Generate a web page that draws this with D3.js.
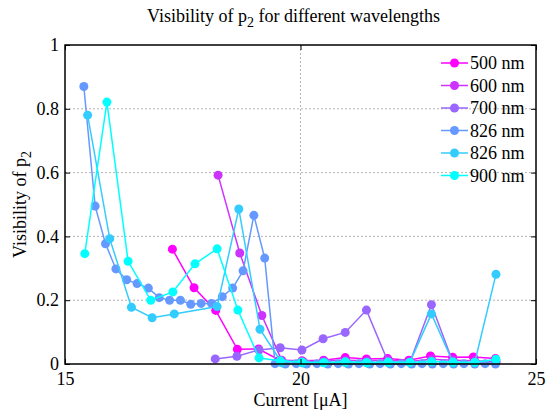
<!DOCTYPE html>
<html>
<head>
<meta charset="utf-8">
<script src="https://cdnjs.cloudflare.com/ajax/libs/d3/7.8.5/d3.min.js"></script>
<style>
  body { margin: 0; background: #fff; }
  svg { font-family: "Liberation Serif", "Times New Roman", serif; }
</style>
</head>
<body>
<svg width="547" height="412"></svg>
<script>
var labels = ["500 nm", "600 nm", "700 nm", "826 nm", "826 nm", "900 nm"];
var colors = ["#ff00ff", "#cc33ff", "#9966ff", "#6699ff", "#33ccff", "#00ffff"];

var current500 = [17.28, 17.74, 18.20, 18.66, 19.11, 19.56, 20.03, 20.49, 20.95, 21.40, 21.85, 22.30, 22.76, 23.23, 23.67, 24.14];
var vis500     = [0.360, 0.239, 0.168, 0.046, 0.047, 0.012, 0.010, 0.012, 0.020, 0.016, 0.017, 0.012, 0.025, 0.021, 0.022, 0.017];

var current600 = [18.25, 18.71, 19.18, 19.60, 20.05, 20.50, 20.96, 21.42, 21.87, 22.32, 22.78, 23.24, 23.70, 24.15];
var vis600     = [0.592, 0.348, 0.152, 0.012, 0.008, 0.010, 0.012, 0.010, 0.012, 0.008, 0.015, 0.012, 0.010, 0.006];

var current700 = [18.19, 18.65, 19.12, 19.57, 20.03, 20.48, 20.95, 21.40, 21.86, 22.32, 22.78, 23.24, 23.70, 24.15];
var vis700     = [0.016, 0.024, 0.044, 0.051, 0.044, 0.079, 0.099, 0.169, 0.006, 0.005, 0.186, 0.004, 0.004, 0.008];

var current826a = [15.40, 15.64, 15.86, 16.08, 16.31, 16.53, 16.77, 17.00, 17.22, 17.45, 17.67, 17.89, 18.11, 18.34, 18.56, 18.78, 19.01, 19.24,
                   19.46, 19.68, 19.91, 20.13, 20.35, 20.58, 20.80, 21.02, 21.24, 21.47, 21.69, 21.91, 22.14, 22.36, 22.58, 22.80, 23.03, 23.25, 23.47, 23.70, 23.92, 24.14];
var vis826a     = [0.870, 0.495, 0.377, 0.298, 0.264, 0.252, 0.238, 0.208, 0.200, 0.200, 0.187, 0.190, 0.190, 0.211, 0.238, 0.292, 0.466, 0.332,
                   0.001, 0.000, 0.001, 0.000, 0.001, 0.000, 0.001, 0.000, 0.001, 0.000, 0.001, 0.000, 0.001, 0.000, 0.001, 0.000, 0.001, 0.000, 0.001, 0.000, 0.001, 0.000];

var current826b = [15.48, 15.95, 16.41, 16.85, 17.32, 18.23, 18.69, 19.14, 19.60, 20.05, 20.50, 20.96, 21.42, 21.87, 22.32, 22.78, 23.24, 23.70, 24.15];
var vis826b     = [0.780, 0.393, 0.178, 0.145, 0.157, 0.180, 0.486, 0.109, 0.004, 0.003, 0.005, 0.004, 0.003, 0.004, 0.005, 0.157, 0.004, 0.005, 0.281];

var current900 = [15.42, 15.89, 16.34, 16.82, 17.29, 17.76, 18.23, 18.67, 19.12, 19.57, 20.03, 20.49, 20.95, 21.40, 21.86, 22.32, 22.78, 23.24, 23.70, 24.15];
var vis900     = [0.346, 0.821, 0.322, 0.200, 0.226, 0.314, 0.361, 0.169, 0.019, 0.010, 0.006, 0.004, 0.007, 0.005, 0.006, 0.005, 0.008, 0.006, 0.005, 0.015];

var xTicks = [15, 20, 25];
var yTicks = [0, 0.2, 0.4, 0.6, 0.8, 1];

var series = [
  [current500, vis500], [current600, vis600], [current700, vis700],
  [current826a, vis826a], [current826b, vis826b], [current900, vis900]
].map(function(s, i) {
  return {
    name: labels[i], color: colors[i],
    values: s[0].map(function(c, j) { return {x: c, y: s[1][j]}; })
  };
});

var svg = d3.select("svg");
var margin = {top: 45, right: 11, bottom: 48, left: 65};
var width = +svg.attr("width") - margin.left - margin.right;
var height = +svg.attr("height") - margin.top - margin.bottom;
var g = svg.append("g").attr("transform", "translate(" + margin.left + "," + margin.top + ")");

var x = d3.scaleLinear().domain([15, 25]).range([0, width]);
var y = d3.scaleLinear().domain([0, 1]).range([height, 0]);

// dotted grid
g.append("g").selectAll("line").data(xTicks.slice(1, -1)).enter().append("line")
  .attr("x1", x).attr("x2", x).attr("y1", 0).attr("y2", height)
  .attr("stroke", "#b4b4b4").attr("stroke-dasharray", "2,2");
g.append("g").selectAll("line").data(yTicks.slice(1, -1)).enter().append("line")
  .attr("y1", y).attr("y2", y).attr("x1", 0).attr("x2", width)
  .attr("stroke", "#b4b4b4").attr("stroke-dasharray", "2,2");

var line = d3.line()
  .x(function(d) { return x(d.x); })
  .y(function(d) { return y(d.y); });

series.forEach(function(s) {
  var sg = g.append("g");
  sg.append("path")
    .datum(s.values)
    .attr("fill", "none")
    .attr("stroke", s.color)
    .attr("stroke-width", 1.5)
    .attr("d", line);
  sg.selectAll("circle").data(s.values).enter().append("circle")
    .attr("cx", function(d) { return x(d.x); })
    .attr("cy", function(d) { return y(d.y); })
    .attr("r", 4.5)
    .attr("fill", s.color);
});

// axes, ticks pointing inwards on all sides
function styleAxis(sel) {
  sel.selectAll("text").attr("font-size", 18).attr("font-family", "Liberation Serif").attr("fill", "#000");
  sel.select(".domain").remove();
  sel.selectAll(".tick line").attr("stroke", "#000");
}
g.append("g").attr("transform", "translate(0," + height + ")")
  .call(d3.axisBottom(x).tickValues(xTicks).tickSize(-5).tickPadding(8).tickFormat(d3.format("d")))
  .call(styleAxis);
g.append("g")
  .call(d3.axisTop(x).tickValues(xTicks).tickSize(-5).tickFormat(""))
  .call(styleAxis);
g.append("g")
  .call(d3.axisLeft(y).tickValues(yTicks).tickSize(-5).tickPadding(6).tickFormat(function(d) { return d3.format("")(d); }))
  .call(styleAxis);
g.append("g").attr("transform", "translate(" + width + ",0)")
  .call(d3.axisRight(y).tickValues(yTicks).tickSize(-5).tickFormat(""))
  .call(styleAxis);

g.append("rect")
  .attr("width", width).attr("height", height)
  .attr("fill", "none").attr("stroke", "#000").attr("stroke-width", 1.5);

// title
var title = svg.append("text")
  .attr("x", margin.left + width / 2 - 7).attr("y", 22)
  .attr("text-anchor", "middle").attr("font-size", 18);
title.append("tspan").text("Visibility of p");
title.append("tspan").attr("dy", 5).attr("font-size", 14).text("2");
title.append("tspan").attr("dy", -5).text(" for different wavelengths");

// x label
svg.append("text")
  .attr("x", margin.left + width / 2).attr("y", 406)
  .attr("text-anchor", "middle").attr("font-size", 18)
  .text("Current [\u03bcA]");

// y label
var ylab = svg.append("text")
  .attr("transform", "translate(26," + (margin.top + height / 2) + ") rotate(-90)")
  .attr("text-anchor", "middle").attr("font-size", 18);
ylab.append("tspan").text("Visibility of p");
ylab.append("tspan").attr("dy", 5).attr("font-size", 14).text("2");

// legend
var legend = g.append("g").attr("transform", "translate(" + (width - 95) + ",18)");
var rows = legend.selectAll("g").data(series).enter().append("g")
  .attr("transform", function(d, i) { return "translate(0," + (i * 22.5) + ")"; });
rows.append("line")
  .attr("x1", 0).attr("x2", 27).attr("y1", 0).attr("y2", 0)
  .attr("stroke", function(d) { return d.color; }).attr("stroke-width", 1.5);
rows.append("circle")
  .attr("cx", 13.5).attr("cy", 0).attr("r", 4.5)
  .attr("fill", function(d) { return d.color; });
rows.append("text")
  .attr("x", 29).attr("y", 0).attr("dy", "0.35em")
  .attr("font-size", 18)
  .text(function(d) { return d.name; });
</script>
</body>
</html>
